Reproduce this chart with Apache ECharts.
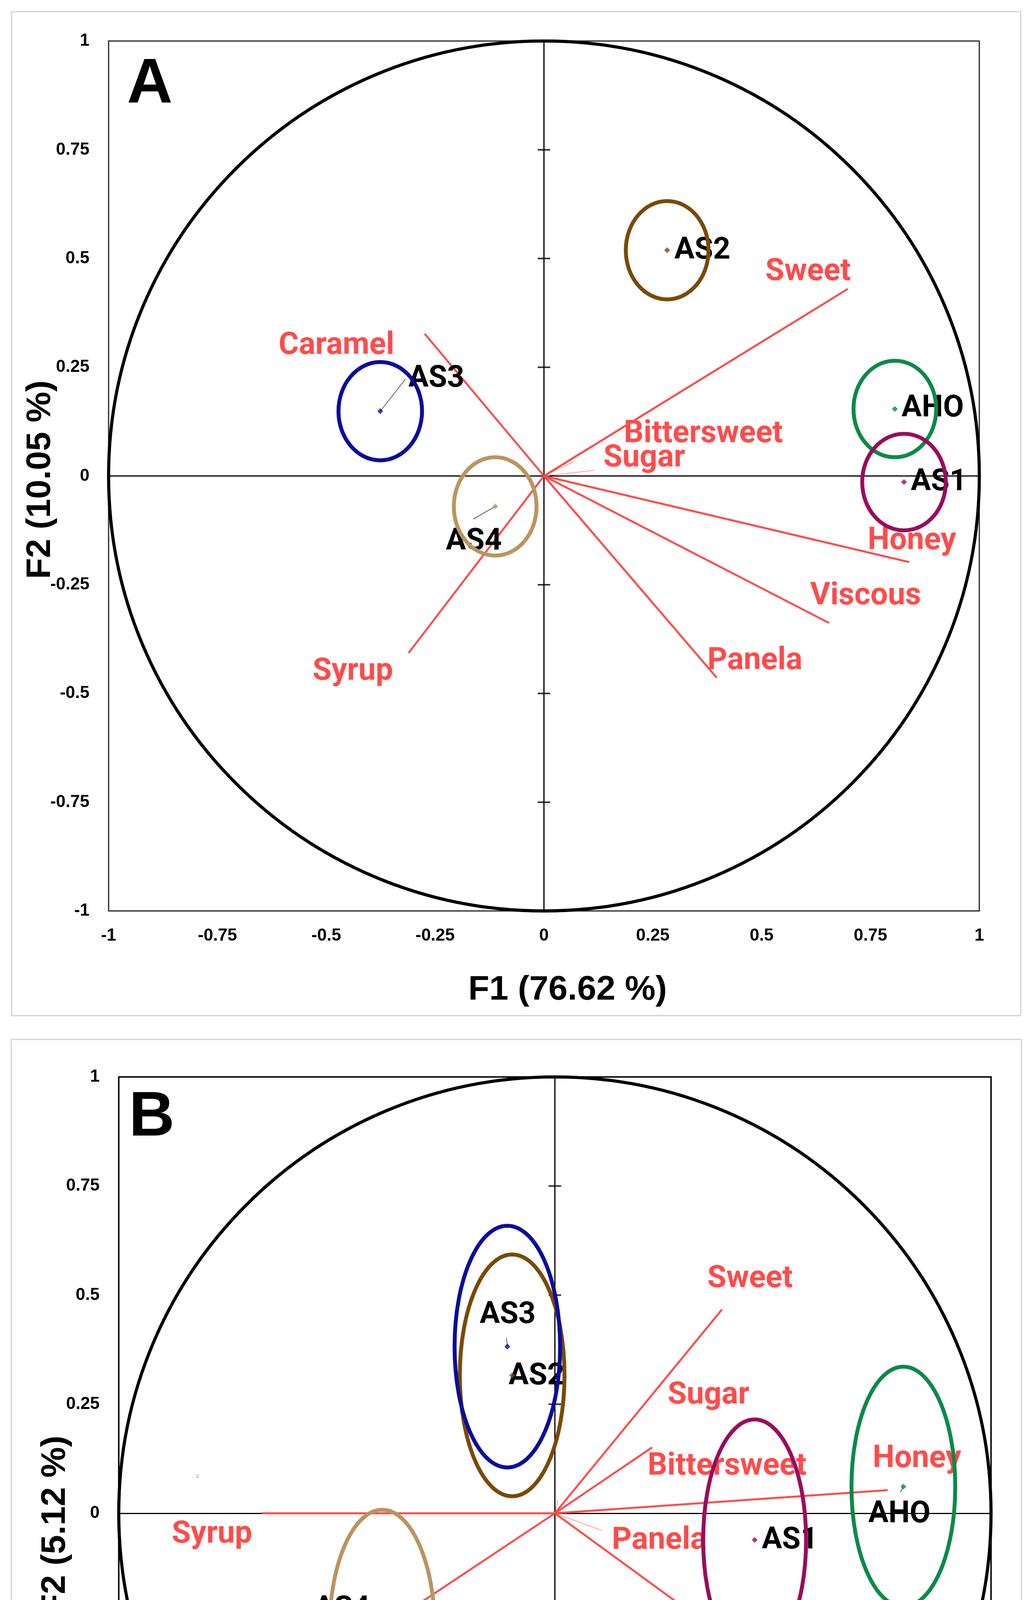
<!DOCTYPE html>
<html lang="en">
<head>
<meta charset="UTF-8" />
<title>PCA biplots A and B</title>
<style>
  html, body { margin: 0; padding: 0; background: #fff; }
  #main { width: 2647px; height: 5279px; }
</style>
</head>
<body>
<script src="https://cdn.jsdelivr.net/npm/echarts@6/dist/echarts.min.js"></script>
<div id="main"></div>
<script>
// sensory attributes (same order in both panels)
const attributes = ['Sweet', 'Caramel', 'Bittersweet', 'Sugar', 'Honey', 'Viscous', 'Panela', 'Syrup']
const samples = ['AS2', 'AS3', 'AS4', 'AHO', 'AS1']
const sampleColors = ['#7a4a05', '#0b0b9e', '#b9965f', '#0b8a47', '#9b0b5c']
const f2Ticks = [-0.75, -0.5, -0.25, 0.25, 0.5, 0.75]

// panel A - attribute loadings and where their labels sit
const attrA_F1 = [0.698, -0.274, 0.068, 0.116, 0.839, 0.655, 0.397, -0.311]
const attrA_F2 = [0.430, 0.327, 0.033, 0.013, -0.198, -0.338, -0.464, -0.407]
const attrLabelA_F1 = [0.509, -0.609, 0.184, 0.137, 0.744, 0.612, 0.376, -0.531]
const attrLabelA_F2 = [0.468, 0.298, 0.095, 0.039, -0.151, -0.278, -0.427, -0.451]
// panel A - sample scores, confidence ellipse radii, labels
const scoreA_F1 = [0.283, -0.376, -0.112, 0.806, 0.827]
const scoreA_F2 = [0.519, 0.149, -0.070, 0.154, -0.014]
const ellipseA_rx = [0.095, 0.096, 0.095, 0.095, 0.096]
const ellipseA_ry = [0.113, 0.113, 0.113, 0.111, 0.111]
const sampleLabelA_F1 = [0.300, -0.311, -0.225, 0.822, 0.843]
const sampleLabelA_F2 = [0.517, 0.222, -0.152, 0.154, -0.016]
const leaderA_F1 = [null, -0.318, -0.162, null, null]
const leaderA_F2 = [null, 0.223, -0.099, null, null]

// panel B
const attrB_F1 = [0.383, -0.484, 0.223, 0.007, 0.763, 0.653, 0.107, -0.672]
const attrB_F2 = [0.467, -0.322, 0.151, 0.030, 0.053, -0.476, -0.039, 0.000]
const attrLabelB_F1 = [0.350, -0.776, 0.213, 0.259, 0.729, 0.617, 0.131, -0.878]
const attrLabelB_F2 = [0.536, -0.361, 0.106, 0.269, 0.123, -0.517, -0.064, -0.050]
const scoreB_F1 = [-0.098, -0.109, -0.396, 0.799, 0.458]
const scoreB_F2 = [0.316, 0.382, -0.269, 0.061, -0.061]
const ellipseB_rx = [0.120, 0.121, 0.121, 0.119, 0.118]
const ellipseB_ry = [0.277, 0.277, 0.277, 0.275, 0.276]
const sampleLabelB_F1 = [-0.106, -0.172, -0.552, 0.719, 0.475]
const sampleLabelB_F2 = [0.312, 0.453, -0.221, -0.004, -0.064]
const leaderB_F1 = [null, -0.111, -0.424, 0.792, null]
const leaderB_F2 = [null, 0.402, -0.219, 0.048, null]

const RED = '#ff4b4b'
const axisFont = "'Liberation Sans', Arial, sans-serif"
const labelFont = "Roboto, 'Liberation Sans', sans-serif"

const chart = echarts.init(document.getElementById('main'))

function panelSeries(i, p) {
  const ax = { xAxisIndex: i, yAxisIndex: i }
  return [
    // cross ticks on the F2 axis + the two zero lines
    {
      ...ax, type: 'scatter', z: 2, silent: true,
      symbol: 'rect', symbolSize: [32, 4],
      itemStyle: { color: '#000' },
      data: f2Ticks.map(v => [0, v]),
      markLine: {
        z: 1, silent: true, symbol: ['none', 'none'], label: { show: false },
        lineStyle: { color: '#000', width: 3, type: 'solid' },
        data: [{ xAxis: 0 }, { yAxis: 0 }]
      }
    },
    // attribute vectors
    {
      ...ax, type: 'custom', z: 3, silent: true, clip: false,
      data: p.attrF1.map((x, k) => [x, p.attrF2[k]]),
      renderItem: (params, api) => {
        const o = api.coord([0, 0])
        const e = api.coord([api.value(0), api.value(1)])
        const short = Math.hypot(api.value(0), api.value(1)) < 0.15 && Math.abs(api.value(1)) < 0.05
        return {
          type: 'line',
          shape: { x1: o[0], y1: o[1], x2: e[0], y2: e[1] },
          style: { stroke: RED, lineWidth: short ? 1.5 : 5, opacity: short ? 0.7 : 1 }
        }
      }
    },
    // attribute names
    {
      ...ax, type: 'scatter', z: 4, silent: true,
      symbolSize: 1, itemStyle: { color: 'rgba(0,0,0,0)' },
      data: attributes.map((n, k) => ({ name: n, value: [p.attrLabF1[k], p.attrLabF2[k]] })),
      label: {
        show: true, position: [0, 0], align: 'left', verticalAlign: 'middle', opacity: 1,
        formatter: '{b}', color: RED, fontFamily: labelFont, fontWeight: 'bold', fontSize: 79
      }
    },
    // sample names
    {
      ...ax, type: 'scatter', z: 4, silent: true,
      symbolSize: 1, itemStyle: { color: 'rgba(0,0,0,0)' },
      data: samples.map((n, k) => ({ name: n, value: [p.labF1[k], p.labF2[k]] })),
      label: {
        show: true, position: [0, 0], align: 'left', verticalAlign: 'middle', opacity: 1,
        formatter: '{b}', color: '#000', fontFamily: labelFont, fontWeight: 'bold', fontSize: 77
      }
    },
    // leader lines from point to its name
    {
      ...ax, type: 'custom', z: 4, silent: true, clip: false,
      data: samples.map((n, k) => [p.scoreF1[k], p.scoreF2[k], p.leadF1[k], p.leadF2[k]])
        .filter(d => d[2] !== null),
      renderItem: (params, api) => {
        const a = api.coord([api.value(0), api.value(1)])
        const b = api.coord([api.value(2), api.value(3)])
        return {
          type: 'line',
          shape: { x1: a[0], y1: a[1], x2: b[0], y2: b[1] },
          style: { stroke: '#333', lineWidth: 1.5 }
        }
      }
    },
    // unit circle + confidence ellipses
    {
      ...ax, type: 'custom', z: 5, silent: true, clip: false,
      data: [[0, 0, 1, 1, -1]].concat(samples.map((n, k) =>
        [p.scoreF1[k], p.scoreF2[k], p.rx[k], p.ry[k], k])),
      renderItem: (params, api) => {
        const c = api.coord([api.value(0), api.value(1)])
        const s = api.size([api.value(2), api.value(3)])
        const k = api.value(4)
        return {
          type: 'ellipse',
          shape: { cx: c[0], cy: c[1], rx: s[0], ry: s[1] },
          style: { fill: 'none', stroke: k < 0 ? '#000' : sampleColors[k], lineWidth: k < 0 ? 8 : 10 }
        }
      }
    },
    // sample points
    {
      ...ax, type: 'scatter', z: 6, silent: true,
      symbol: 'diamond', symbolSize: 15,
      data: samples.map((n, k) => ({
        value: [p.scoreF1[k], p.scoreF2[k]],
        itemStyle: { color: sampleColors[k] }
      }))
    }
  ]
}

function axes(i) {
  const common = {
    gridIndex: i, type: 'value', min: -1, max: 1, interval: 0.25,
    axisLine: { show: false }, axisTick: { show: false }, splitLine: { show: false },
    axisLabel: { color: '#000', fontFamily: axisFont, fontWeight: 'bold', fontSize: 44 }
  }
  return {
    x: { ...common, axisLabel: { ...common.axisLabel, margin: 42 } },
    y: { ...common, axisLabel: { ...common.axisLabel, margin: 49 } }
  }
}

const aAx = axes(0)
const bAx = axes(1)

const titleStyle = { fill: '#000', fontFamily: axisFont, fontWeight: 'bold', fontSize: 88, align: 'center', verticalAlign: 'middle' }
const letterFont = "'Liberation Sans Narrow', 'Liberation Sans', sans-serif"

chart.setOption({
  animation: false,
  backgroundColor: '#fff',
  grid: [
    { left: 278, top: 105, width: 2229, height: 2227, show: true, borderColor: '#222', borderWidth: 3, backgroundColor: 'transparent' },
    { left: 304, top: 2757, width: 2233, height: 2234, show: true, borderColor: '#111', borderWidth: 4, backgroundColor: 'transparent' }
  ],
  xAxis: [aAx.x, bAx.x],
  yAxis: [aAx.y, bAx.y],
  graphic: {
    elements: [
      { type: 'rect', z: -1, shape: { x: 30, y: 30, width: 2583, height: 2570 }, style: { fill: 'none', stroke: '#d2d2d2', lineWidth: 3 } },
      { type: 'rect', z: -1, shape: { x: 29, y: 2661, width: 2586, height: 2583 }, style: { fill: 'none', stroke: '#d2d2d2', lineWidth: 3 } },
      { type: 'text', x: 325, y: 217, style: { text: 'A', fill: '#000', fontFamily: letterFont, fontWeight: 'bold', fontSize: 162, align: 'left', verticalAlign: 'middle' } },
      { type: 'text', x: 330, y: 2862, style: { text: 'B', fill: '#000', fontFamily: letterFont, fontWeight: 'bold', fontSize: 162, align: 'left', verticalAlign: 'middle' } },
      { type: 'text', x: 1453, y: 2535, style: { ...titleStyle, text: 'F1 (76.62 %)' } },
      { type: 'text', x: 1426, y: 5170, style: { ...titleStyle, text: 'F1 (91.37 %)' } },
      { type: 'text', x: 104, y: 1228, rotation: Math.PI / 2, style: { ...titleStyle, text: 'F2 (10.05 %)' } },
      { type: 'text', x: 142, y: 3905, rotation: Math.PI / 2, style: { ...titleStyle, text: 'F2 (5.12 %)' } },
      // stray tiny axis captions left in panel B
      { type: 'text', x: 506, y: 3779, rotation: Math.PI / 2, style: { text: 'F2', fill: '#666', fontSize: 8, align: 'center', verticalAlign: 'middle' } },
      { type: 'text', x: 1566, y: 4590, style: { text: 'F1', fill: '#666', fontSize: 8, align: 'center', verticalAlign: 'middle' } }
    ]
  },
  series: [
    ...panelSeries(0, {
      attrF1: attrA_F1, attrF2: attrA_F2, attrLabF1: attrLabelA_F1, attrLabF2: attrLabelA_F2,
      scoreF1: scoreA_F1, scoreF2: scoreA_F2, rx: ellipseA_rx, ry: ellipseA_ry,
      labF1: sampleLabelA_F1, labF2: sampleLabelA_F2, leadF1: leaderA_F1, leadF2: leaderA_F2
    }),
    ...panelSeries(1, {
      attrF1: attrB_F1, attrF2: attrB_F2, attrLabF1: attrLabelB_F1, attrLabF2: attrLabelB_F2,
      scoreF1: scoreB_F1, scoreF2: scoreB_F2, rx: ellipseB_rx, ry: ellipseB_ry,
      labF1: sampleLabelB_F1, labF2: sampleLabelB_F2, leadF1: leaderB_F1, leadF2: leaderB_F2
    })
  ]
})
</script>
</body>
</html>
